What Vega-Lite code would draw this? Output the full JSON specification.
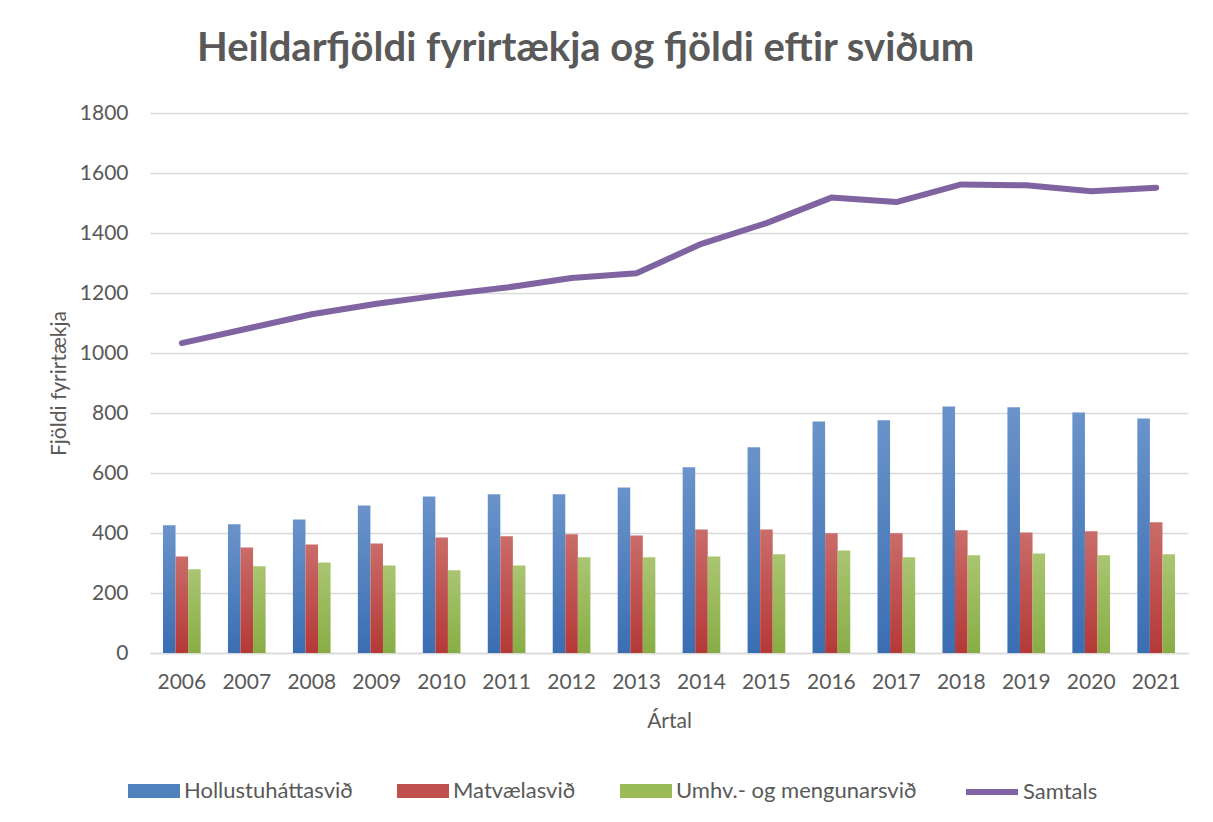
{
  "$schema": "https://vega.github.io/schema/vega-lite/v6.json",
  "width": 1038,
  "height": 540,
  "autosize": {"type": "none"},
  "padding": {"left": 150, "top": 113, "right": 25, "bottom": 169},
  "background": "white",
  "title": {
    "text": "Heildarfjöldi fyrirtækja og fjöldi eftir sviðum",
    "anchor": "start",
    "frame": "group",
    "dx": 47,
    "offset": 1,
    "baseline": "alphabetic",
    "font": "Lato",
    "fontSize": 40,
    "fontWeight": "bold",
    "color": "#595959"
  },
  "config": {
    "view": {"stroke": null},
    "axis": {
      "labelFont": "Lato",
      "labelFontSize": 21,
      "labelColor": "#595959",
      "titleFont": "Lato",
      "titleFontSize": 21,
      "titleFontWeight": "normal",
      "titleColor": "#595959",
      "ticks": false
    },
    "legend": {
      "labelFont": "Lato",
      "labelFontSize": 22,
      "labelColor": "#595959",
      "labelLimit": 400,
      "padding": 0,
      "labelOffset": 4,
      "columnPadding": 44
    }
  },
  "datasets": {
    "bars": [
      {"year": "2006", "series": "Hollustuháttasvið", "value": 426},
      {"year": "2006", "series": "Matvælasvið", "value": 322},
      {"year": "2006", "series": "Umhv.- og mengunarsvið", "value": 279},
      {"year": "2007", "series": "Hollustuháttasvið", "value": 429},
      {"year": "2007", "series": "Matvælasvið", "value": 352},
      {"year": "2007", "series": "Umhv.- og mengunarsvið", "value": 289},
      {"year": "2008", "series": "Hollustuháttasvið", "value": 445},
      {"year": "2008", "series": "Matvælasvið", "value": 362},
      {"year": "2008", "series": "Umhv.- og mengunarsvið", "value": 302},
      {"year": "2009", "series": "Hollustuháttasvið", "value": 492},
      {"year": "2009", "series": "Matvælasvið", "value": 365},
      {"year": "2009", "series": "Umhv.- og mengunarsvið", "value": 292},
      {"year": "2010", "series": "Hollustuháttasvið", "value": 522},
      {"year": "2010", "series": "Matvælasvið", "value": 385},
      {"year": "2010", "series": "Umhv.- og mengunarsvið", "value": 276},
      {"year": "2011", "series": "Hollustuháttasvið", "value": 529},
      {"year": "2011", "series": "Matvælasvið", "value": 389},
      {"year": "2011", "series": "Umhv.- og mengunarsvið", "value": 292},
      {"year": "2012", "series": "Hollustuháttasvið", "value": 529},
      {"year": "2012", "series": "Matvælasvið", "value": 396},
      {"year": "2012", "series": "Umhv.- og mengunarsvið", "value": 319},
      {"year": "2013", "series": "Hollustuháttasvið", "value": 552},
      {"year": "2013", "series": "Matvælasvið", "value": 392},
      {"year": "2013", "series": "Umhv.- og mengunarsvið", "value": 319},
      {"year": "2014", "series": "Hollustuháttasvið", "value": 619},
      {"year": "2014", "series": "Matvælasvið", "value": 412},
      {"year": "2014", "series": "Umhv.- og mengunarsvið", "value": 322},
      {"year": "2015", "series": "Hollustuháttasvið", "value": 686},
      {"year": "2015", "series": "Matvælasvið", "value": 412},
      {"year": "2015", "series": "Umhv.- og mengunarsvið", "value": 329},
      {"year": "2016", "series": "Hollustuháttasvið", "value": 772},
      {"year": "2016", "series": "Matvælasvið", "value": 399},
      {"year": "2016", "series": "Umhv.- og mengunarsvið", "value": 342},
      {"year": "2017", "series": "Hollustuháttasvið", "value": 776},
      {"year": "2017", "series": "Matvælasvið", "value": 399},
      {"year": "2017", "series": "Umhv.- og mengunarsvið", "value": 319},
      {"year": "2018", "series": "Hollustuháttasvið", "value": 822},
      {"year": "2018", "series": "Matvælasvið", "value": 409},
      {"year": "2018", "series": "Umhv.- og mengunarsvið", "value": 326},
      {"year": "2019", "series": "Hollustuháttasvið", "value": 819},
      {"year": "2019", "series": "Matvælasvið", "value": 402},
      {"year": "2019", "series": "Umhv.- og mengunarsvið", "value": 332},
      {"year": "2020", "series": "Hollustuháttasvið", "value": 802},
      {"year": "2020", "series": "Matvælasvið", "value": 406},
      {"year": "2020", "series": "Umhv.- og mengunarsvið", "value": 326},
      {"year": "2021", "series": "Hollustuháttasvið", "value": 782},
      {"year": "2021", "series": "Matvælasvið", "value": 436},
      {"year": "2021", "series": "Umhv.- og mengunarsvið", "value": 329}
    ],
    "totals": [
      {"year": "2006", "total": 1033},
      {"year": "2007", "total": 1081},
      {"year": "2008", "total": 1129},
      {"year": "2009", "total": 1164},
      {"year": "2010", "total": 1193},
      {"year": "2011", "total": 1218},
      {"year": "2012", "total": 1250},
      {"year": "2013", "total": 1266},
      {"year": "2014", "total": 1364},
      {"year": "2015", "total": 1433},
      {"year": "2016", "total": 1518},
      {"year": "2017", "total": 1503},
      {"year": "2018", "total": 1562},
      {"year": "2019", "total": 1559},
      {"year": "2020", "total": 1539},
      {"year": "2021", "total": 1551}
    ]
  },
  "encoding": {
    "x": {
      "field": "year",
      "type": "ordinal",
      "scale": {"paddingInner": 0.42, "paddingOuter": 0.2},
      "axis": {
        "title": "Ártal",
        "labelAngle": 0,
        "labelPadding": 18,
        "titlePadding": 18,
        "domain": true,
        "domainColor": "#D9D9D9",
        "domainWidth": 1.5,
        "grid": false
      }
    }
  },
  "layer": [
    {
      "data": {"name": "bars"},
      "mark": {"type": "bar"},
      "encoding": {
        "xOffset": {
          "field": "series",
          "type": "nominal",
          "sort": ["Hollustuháttasvið", "Matvælasvið", "Umhv.- og mengunarsvið"],
          "scale": {"paddingInner": 0, "paddingOuter": 0}
        },
        "y": {
          "field": "value",
          "type": "quantitative",
          "scale": {"domain": [0, 1800], "nice": false},
          "axis": {
            "title": "Fjöldi fyrirtækja",
            "format": "d",
            "values": [0, 200, 400, 600, 800, 1000, 1200, 1400, 1600, 1800],
            "domain": false,
            "grid": true,
            "gridColor": "#D9D9D9",
            "gridWidth": 1.5,
            "labelPadding": 22,
            "titlePadding": 10
          }
        },
        "fill": {
          "condition": [
            {"test": "datum.series === 'Hollustuháttasvið'", "value": {"gradient": "linear", "x1": 0, "y1": 0, "x2": 0, "y2": 1, "stops": [{"offset": 0, "color": "#6A93CA"}, {"offset": 1, "color": "#3A6EB2"}]}},
            {"test": "datum.series === 'Matvælasvið'", "value": {"gradient": "linear", "x1": 0, "y1": 0, "x2": 0, "y2": 1, "stops": [{"offset": 0, "color": "#CA6C69"}, {"offset": 1, "color": "#B43937"}]}},
            {"test": "datum.series === 'Umhv.- og mengunarsvið'", "value": {"gradient": "linear", "x1": 0, "y1": 0, "x2": 0, "y2": 1, "stops": [{"offset": 0, "color": "#AAC571"}, {"offset": 1, "color": "#88AD45"}]}}
          ],
          "field": "series",
          "type": "nominal",
          "scale": {
            "domain": ["Hollustuháttasvið", "Matvælasvið", "Umhv.- og mengunarsvið"],
            "range": ["#4F81BD", "#C0504D", "#9BBB59"]
          },
          "legend": {
            "title": null,
            "orient": "none",
            "direction": "horizontal",
            "legendX": -22,
            "legendY": 652,
            "symbolType": "M-1,-0.27H1V0.27H-1Z",
            "symbolSize": 2704,
            "symbolStrokeWidth": 0
          }
        }
      }
    },
    {
      "data": {"name": "totals"},
      "mark": {"type": "line", "strokeWidth": 6, "strokeCap": "round", "strokeJoin": "round"},
      "encoding": {
        "y": {"field": "total", "type": "quantitative"},
        "stroke": {
          "datum": "Samtals",
          "scale": {"range": ["#8064A2"]},
          "legend": {
            "title": null,
            "orient": "none",
            "direction": "horizontal",
            "legendX": 813,
            "legendY": 650,
            "labelOffset": 2,
            "symbolType": "stroke",
            "symbolSize": 2704,
            "symbolStrokeWidth": 6
          }
        }
      }
    }
  ]
}
